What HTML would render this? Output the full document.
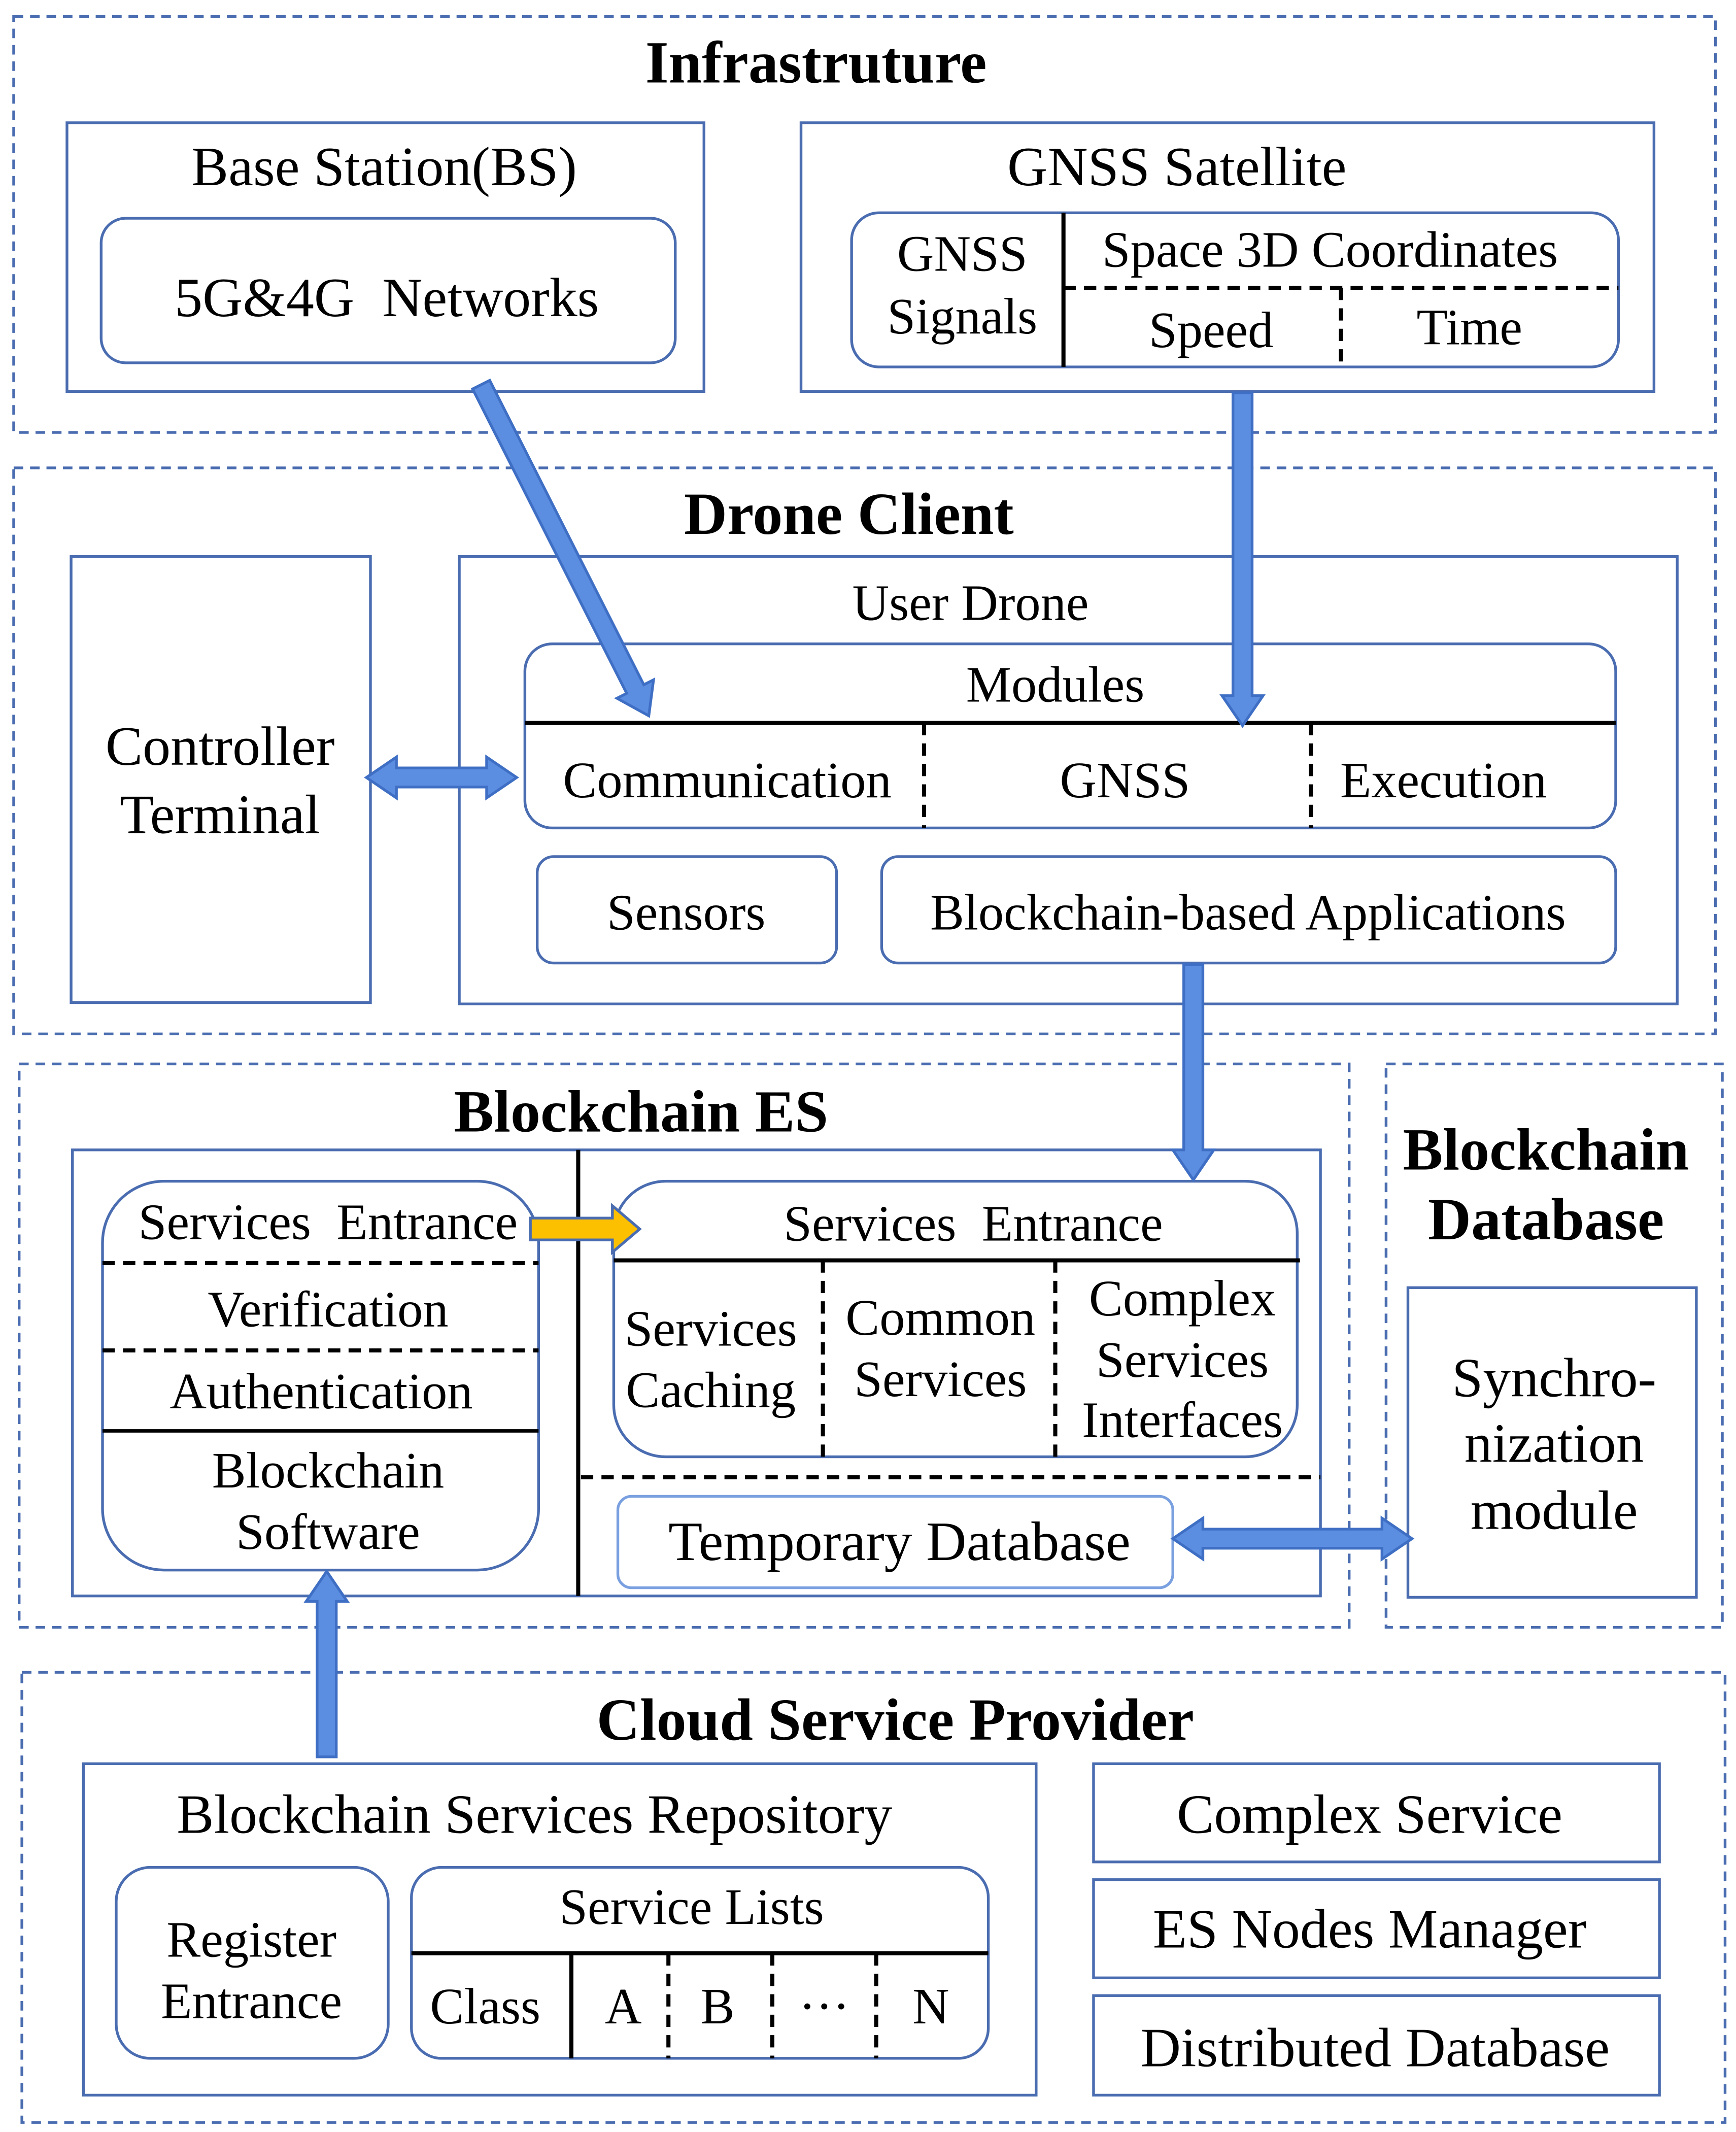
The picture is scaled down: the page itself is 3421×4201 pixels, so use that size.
<!DOCTYPE html>
<html><head><meta charset="utf-8"><style>
html,body{margin:0;padding:0;background:#fff;}
svg{display:block;}
text{font-family:"Liberation Serif",serif;font-size:37.3px;fill:#000;dominant-baseline:central;text-anchor:middle;white-space:pre;}
.t{font-weight:bold;font-size:43.8px;}
.L{font-size:40.8px;}
.od{fill:none;stroke:#4a6cb0;stroke-width:2;stroke-dasharray:7,5;}
.b{fill:none;stroke:#4a6cb0;stroke-width:2;}
.k{stroke:#000;stroke-width:3;fill:none;}
.kd{stroke:#000;stroke-width:3;fill:none;stroke-dasharray:9,6;}
.ar{fill:#5b8de0;stroke:#3f6fc4;stroke-width:2;}
</style></head><body>
<svg width="3421" height="4201" viewBox="0 0 1270 1563" preserveAspectRatio="none" xmlns="http://www.w3.org/2000/svg" xml:space="preserve">
<rect class="od" x="10" y="12" width="1245" height="305"/>
<rect class="od" x="10" y="343" width="1245" height="415"/>
<rect class="od" x="14" y="780" width="973" height="413"/>
<rect class="od" x="1014" y="780" width="246" height="413"/>
<rect class="od" x="16" y="1226" width="1246" height="330"/>

<text class="t" x="597" y="46">Infrastruture</text>
<rect class="b" x="49" y="90" width="466" height="197"/>
<text class="L" x="281" y="122">Base Station(BS)</text>
<rect class="b" x="74" y="160" width="420" height="106" rx="18"/>
<text class="L" x="283" y="218">5G&amp;4G  Networks</text>

<rect class="b" x="586" y="90" width="624" height="197"/>
<text class="L" x="861" y="122">GNSS Satellite</text>
<rect class="b" x="623" y="156" width="561" height="113" rx="20"/>
<line class="k" x1="778" y1="156" x2="778" y2="269"/>
<line class="kd" x1="778" y1="211" x2="1184" y2="211"/>
<line class="kd" x1="981" y1="211" x2="981" y2="269"/>
<text x="704" y="186">GNSS</text>
<text x="704" y="232">Signals</text>
<text x="973" y="183">Space 3D Coordinates</text>
<text x="886" y="242">Speed</text>
<text x="1075" y="240">Time</text>

<text class="t" x="621" y="377">Drone Client</text>
<rect class="b" x="52" y="408" width="219" height="327"/>
<text class="L" x="161" y="547">Controller</text>
<text class="L" x="161" y="597">Terminal</text>
<rect class="b" x="336" y="408" width="891" height="328"/>
<text x="710" y="442">User Drone</text>
<rect class="b" x="384" y="472" width="798" height="135" rx="20"/>
<line class="k" x1="384" y1="530" x2="1182" y2="530"/>
<line class="kd" x1="676" y1="530" x2="676" y2="607"/>
<line class="kd" x1="959" y1="530" x2="959" y2="607"/>
<text x="772" y="502">Modules</text>
<text x="532" y="572">Communication</text>
<text x="823" y="572">GNSS</text>
<text x="1056" y="572">Execution</text>
<rect class="b" x="393" y="628" width="219" height="78" rx="12"/>
<text x="502" y="669">Sensors</text>
<rect class="b" x="645" y="628" width="537" height="78" rx="12"/>
<text x="913" y="669">Blockchain-based Applications</text>

<text class="t" x="469" y="815">Blockchain ES</text>
<rect class="b" x="53" y="843" width="913" height="327"/>
<line class="k" x1="423" y1="843" x2="423" y2="1170"/>
<rect class="b" x="75" y="866" width="319" height="285" rx="45"/>
<text x="240" y="896">Services  Entrance</text>
<line class="kd" x1="75" y1="926" x2="394" y2="926"/>
<text x="240" y="960">Verification</text>
<line class="kd" x1="75" y1="990" x2="394" y2="990"/>
<text x="235" y="1020">Authentication</text>
<line class="k" x1="75" y1="1049" x2="394" y2="1049" style="stroke-width:2.5"/>
<text x="240" y="1078">Blockchain</text>
<text x="240" y="1123">Software</text>

<rect class="b" x="449" y="866" width="500" height="202" rx="38"/>
<text x="712" y="897">Services  Entrance</text>
<line class="k" x1="449" y1="924" x2="951" y2="924"/>
<line class="kd" x1="602" y1="924" x2="602" y2="1068"/>
<line class="kd" x1="772" y1="924" x2="772" y2="1068"/>
<text x="520" y="974">Services</text>
<text x="520" y="1019">Caching</text>
<text x="688" y="966">Common</text>
<text x="688" y="1011">Services</text>
<text x="865" y="952">Complex</text>
<text x="865" y="997">Services</text>
<text x="865" y="1041">Interfaces</text>
<line class="kd" x1="425" y1="1083" x2="966" y2="1083"/>
<rect x="452" y="1097" width="406" height="67" rx="10" fill="none" stroke="#7aa0e0" stroke-width="2"/>
<text class="L" x="658" y="1130">Temporary Database</text>

<text class="t" x="1131" y="843">Blockchain</text>
<text class="t" x="1131" y="894">Database</text>
<rect class="b" x="1030" y="944" width="211" height="227"/>
<text class="L" x="1137" y="1010">Synchro-</text>
<text class="L" x="1137" y="1058">nization</text>
<text class="L" x="1137" y="1107">module</text>

<text class="t" x="655" y="1261">Cloud Service Provider</text>
<rect class="b" x="61" y="1293" width="697" height="243"/>
<text class="L" x="391" y="1330">Blockchain Services Repository</text>
<rect class="b" x="85" y="1369" width="199" height="140" rx="25"/>
<text x="184" y="1422">Register</text>
<text x="184" y="1467">Entrance</text>
<rect class="b" x="301" y="1369" width="422" height="140" rx="22"/>
<line class="k" x1="301" y1="1432" x2="723" y2="1432"/>
<text x="506" y="1398">Service Lists</text>
<line class="k" x1="418" y1="1432" x2="418" y2="1509"/>
<line class="kd" x1="489" y1="1432" x2="489" y2="1509"/>
<line class="kd" x1="565" y1="1432" x2="565" y2="1509"/>
<line class="kd" x1="641" y1="1432" x2="641" y2="1509"/>
<text x="355" y="1471">Class</text>
<text x="456" y="1471">A</text>
<text x="525" y="1471">B</text>
<text x="603" y="1471">···</text>
<text x="681" y="1471">N</text>
<rect class="b" x="800" y="1293" width="414" height="72"/>
<text class="L" x="1002" y="1330">Complex Service</text>
<rect class="b" x="800" y="1378" width="414" height="72"/>
<text class="L" x="1002" y="1414">ES Nodes Manager</text>
<rect class="b" x="800" y="1463" width="414" height="73"/>
<text class="L" x="1006" y="1501">Distributed Database</text>

<g transform="translate(352,282) rotate(63.2)"><polygon class="ar" points="0,-7 250,-7 250,-15 272,0 250,15 250,7 0,7"/></g>
<g transform="translate(909,288) rotate(90)"><polygon class="ar" points="0,-7 222,-7 222,-15 244,0 222,15 222,7 0,7"/></g>
<g transform="translate(873,707) rotate(90)"><polygon class="ar" points="0,-7 136,-7 136,-15 158,0 136,15 136,7 0,7"/></g>
<g transform="translate(239,1288) rotate(-90)"><polygon class="ar" points="0,-7 114,-7 114,-15 136,0 114,15 114,7 0,7"/></g>
<polygon class="ar" points="268,570 290,555 290,563 356,563 356,555 378,570 356,585 356,577 290,577 290,585"/>
<polygon class="ar" points="858,1128 880,1113 880,1121 1011,1121 1011,1113 1033,1128 1011,1143 1011,1135 880,1135 880,1143"/>
<polygon points="388,893 448,893 448,884 468,901 448,918 448,909 388,909" fill="#fcc000" stroke="#4a6cb0" stroke-width="2"/>
</svg>
</body></html>
